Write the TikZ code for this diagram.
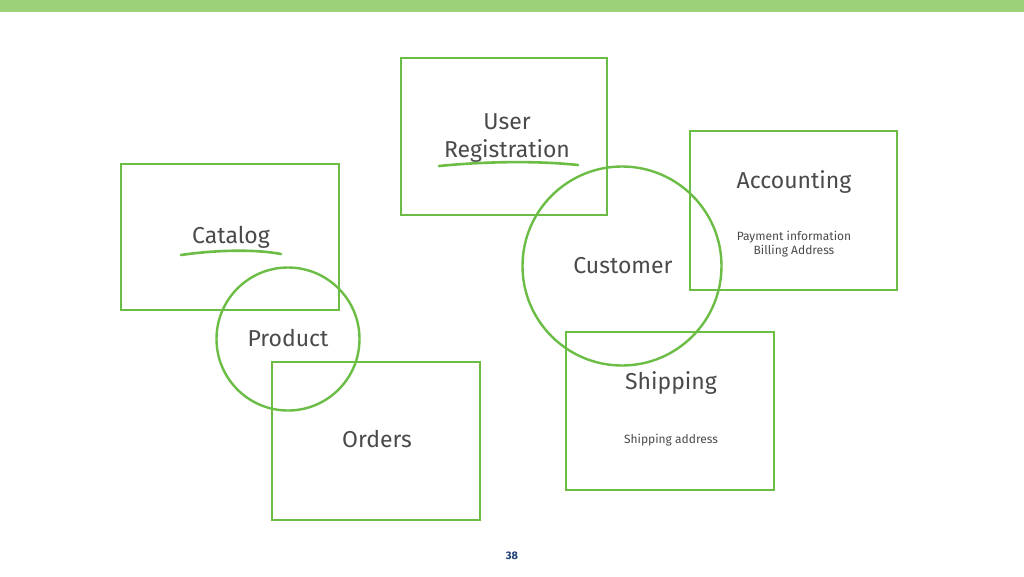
\documentclass[tikz,border=0pt]{standalone}
\usepackage{fontspec}
\setmainfont{Fira Sans}
\definecolor{bar}{HTML}{9CD17A}
\definecolor{lgreen}{HTML}{6CBD45}
\definecolor{txt}{HTML}{4A4A4A}
\definecolor{pnum}{HTML}{1F3D73}
\begin{document}
\begin{tikzpicture}[x=1pt,y=-1pt,
  box/.style={draw=lgreen,line width=2.8pt,rectangle,inner sep=0pt},
  ring/.style={draw=lgreen,line width=2.4pt,circle,inner sep=0pt},
  title/.style={text=txt,font=\fontsize{23}{25}\selectfont,align=center,inner sep=0pt},
  sub/.style={text=txt,font=\fontsize{12}{14}\selectfont,align=center,inner sep=0pt},
  uline/.style={draw=lgreen,line width=2.6pt,line cap=round}]
\useasboundingbox (0,0) rectangle (1024,576);
\fill[white] (0,0) rectangle (1024,576);
\fill[bar] (0,0) rectangle (1024,12);
% boxes
\node[box,minimum width=206pt,minimum height=157pt] (reg) at (504,136.5) {};
\node[box,minimum width=218pt,minimum height=146pt] (cat) at (230,237) {};
\node[box,minimum width=208pt,minimum height=158pt] (ord) at (376,441) {};
\node[box,minimum width=207pt,minimum height=159pt] (acc) at (793.5,210.5) {};
\node[box,minimum width=208pt,minimum height=158pt] (shp) at (670,411) {};
% circles
\node[ring,minimum size=143pt] (prod) at (288,339) {};
\node[ring,minimum size=199pt] (cust) at (622,266) {};
% texts
\node[title] (tuser) at (507,138) {User\\[3pt]Registration};
\draw[uline] (439,166) .. controls (490,161) and (540,161) .. (578,165);
\node[title] (tcat) at (231,237) {Catalog};
\draw[uline] (181,255) .. controls (215,250) and (255,249) .. (281,254);
\node[title] (tprod) at (288,338) {Product};
\node[title] (tord) at (377,439) {Orders};
\node[title] (tacc) at (794,182) {Accounting};
\node[sub] (sacc) at (794,244) {Payment information\\[0pt]Billing Address};
\node[title] (tcust) at (623,266) {Customer};
\node[title] (tshp) at (671,383) {Shipping};
\node[sub] (sshp) at (671,440) {Shipping address};
\node[text=pnum,font=\bfseries\fontsize{11}{12}\selectfont,inner sep=0pt] (pg) at (512,556) {38};
\end{tikzpicture}
\end{document}
